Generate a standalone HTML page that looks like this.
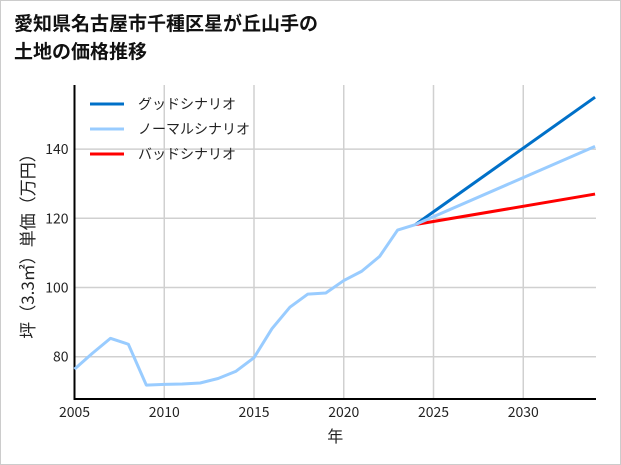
<!DOCTYPE html>
<html><head><meta charset="utf-8"><style>
html,body{margin:0;padding:0;background:#fff}
body{width:621px;height:465px;overflow:hidden;font-family:"Liberation Sans","Noto Sans CJK JP",sans-serif}
.frame{position:absolute;left:0;top:0;width:619px;height:463px;border:1px solid #ccc}
</style></head><body>
<div class="frame"></div>
<svg id="c" width="621" height="465" style="position:absolute;left:0;top:0">
<text x="14" y="30" font-size="19" font-weight="bold" fill="#111" font-family="Liberation Sans, Noto Sans CJK JP, sans-serif">愛知県名古屋市千種区星が丘山手の</text>
<text x="14" y="58" font-size="19" font-weight="bold" fill="#111" font-family="Liberation Sans, Noto Sans CJK JP, sans-serif">土地の価格推移</text>
</svg>
<script>
const years=[2005,2006,2007,2008,2009,2010,2011,2012,2013,2014,2015,2016,2017,2018,2019,2020,2021,2022,2023,2024];
const normalHist=[76.4,81.0,85.3,83.6,71.8,72.0,72.1,72.4,73.7,75.8,79.7,88.1,94.3,98.1,98.4,102.0,104.7,109.0,116.6,118.2];
const scenYears=[2024,2034];
const good=[118.2,155.0];
const normal=[118.2,140.8];
const bad=[118.2,127.0];
const xTicks=[2005,2010,2015,2020,2025,2030];
const yTicks=[80,100,120,140];
const legendLabels=["グッドシナリオ","ノーマルシナリオ","バッドシナリオ"];
const NS="http://www.w3.org/2000/svg";
const svg=document.getElementById('c');
const L=74.5,R=596,T=85,B=399;
const X=v=>74.5+(v-2005)*17.95;
const Y=v=>356.7-(v-80)*3.46;
function el(t,a){const e=document.createElementNS(NS,t);for(const k in a)e.setAttribute(k,a[k]);svg.appendChild(e);return e;}
const F="Noto Sans CJK JP, sans-serif";
xTicks.forEach(t=>{
 const g=el('line',{x1:X(t),x2:X(t),y1:T,y2:B,stroke:'#d0d0d0','stroke-width':1.5});
 
 
 const tx=el('text',{x:X(t),y:B+18,'text-anchor':'middle','font-size':14,fill:'#222','font-family':F});
 tx.textContent=t;
 
 
});
yTicks.forEach(t=>{
 const g=el('line',{x1:L,x2:R,y1:Y(t),y2:Y(t),stroke:'#d0d0d0','stroke-width':1.5});
 
 
 const tx=el('text',{x:L-6,y:Y(t)+5,'text-anchor':'end','font-size':14,fill:'#222','font-family':F});
 tx.textContent=t;
 
 
});
const ax=el('path',{d:`M${L},${T} V${B} H${R}`,stroke:'#000','stroke-width':2,fill:'none'});


function line(xs,ys,color,name){
 const p=el('polyline',{points:xs.map((x,i)=>X(x)+','+Y(ys[i])).join(' '),fill:'none',stroke:color,'stroke-width':3,'stroke-linejoin':'round'});
 
 
}
line(scenYears,good,'#0070c8','good-scenario-line');
line(scenYears,bad,'#ff0000','bad-scenario-line');
line(scenYears,normal,'#99ccff','normal-scenario-line');
line(years,normalHist,'#99ccff','historical-price-line');
const colors=['#0070c8','#99ccff','#ff0000'];
legendLabels.forEach((s,i)=>{
 const y=104+i*25;
 const l=el('line',{x1:90,x2:124,y1:y,y2:y,stroke:colors[i],'stroke-width':3});
 
 
 const t=el('text',{x:138,y:y+5,'font-size':14,fill:'#222','font-family':F});
 t.textContent=s;
 
 
});
const xt=el('text',{x:(L+R)/2,y:442,'text-anchor':'middle','font-size':16,fill:'#222','font-family':F});
xt.textContent='年';


const yt=el('text',{x:0,y:0,'text-anchor':'middle','font-size':17,fill:'#222','font-family':F,transform:`translate(34,${(T+B)/2}) rotate(-90)`});
yt.textContent='坪（3.3㎡）単価（万円）';


</script>
</body></html>
